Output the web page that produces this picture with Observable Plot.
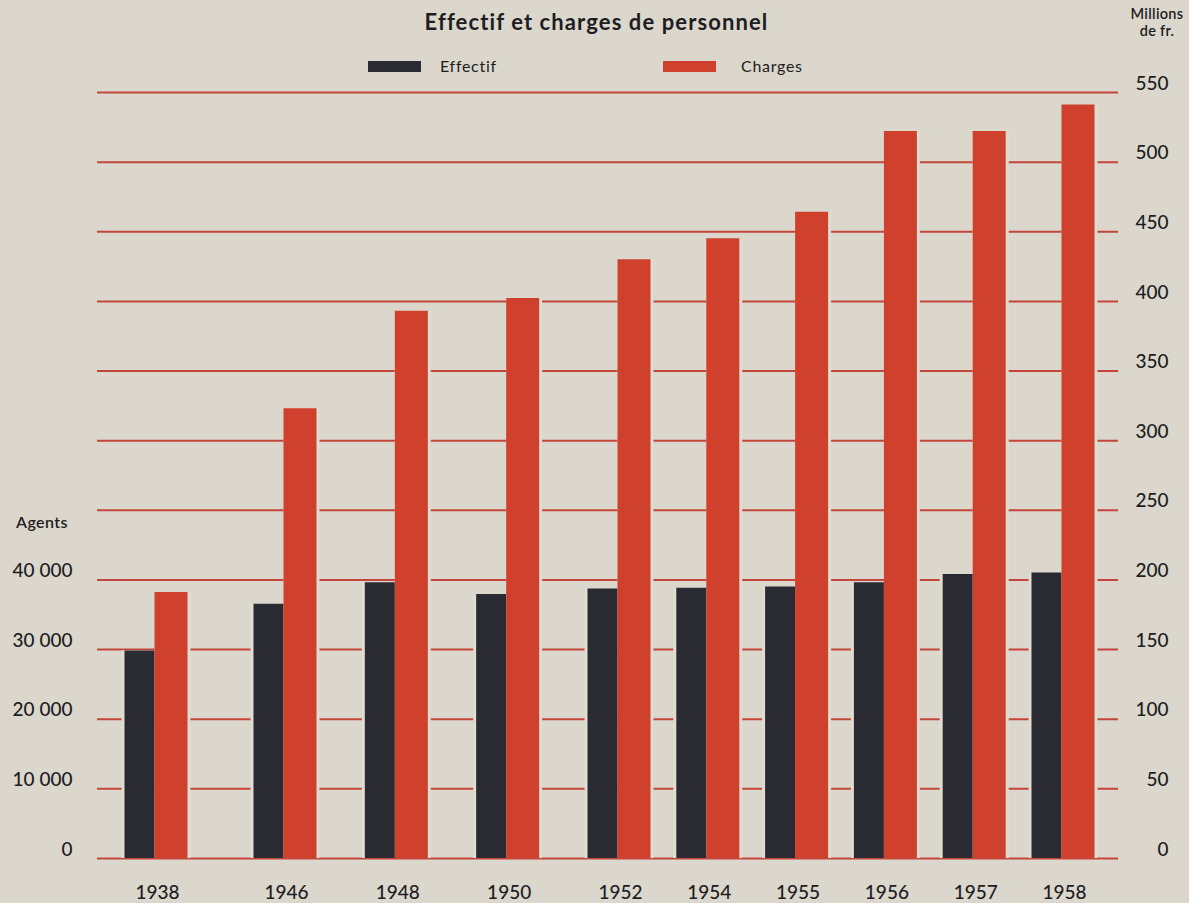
<!DOCTYPE html>
<html>
<head>
<meta charset="utf-8">
<script src="https://cdn.jsdelivr.net/npm/d3@7"></script>
<script src="https://cdn.jsdelivr.net/npm/@observablehq/plot@0.6"></script>
<style>
  html, body { margin: 0; padding: 0; background: #dbd7cc; }
  #wrap { position: relative; width: 1189px; height: 903px; font-family: Lato, "Noto Sans", sans-serif; color: #1d1d22; overflow: hidden; }
  #chart { position: absolute; left: 0; top: 0; }
  .abs { position: absolute; white-space: nowrap; }
  #title { left: 2px; width: 1189px; top: 8px; text-align: center; font-weight: 700; font-size: 22px; letter-spacing: 1.1px; }
  .sw { position: absolute; width: 53px; height: 11px; }
  .lg { font-size: 16px; top: 56px; letter-spacing: 0.7px; }
  #unitR { left: 1118px; width: 78px; top: 5px; text-align: center; font-size: 14.5px; line-height: 17px; font-weight: 600; letter-spacing: 0.3px; }
  #unitL { left: 16px; top: 512px; font-size: 16px; font-weight: 600; letter-spacing: 0.4px; }
</style>
</head>
<body>
<div id="wrap">
  <div id="chart"></div>
  <div id="title" class="abs">Effectif et charges de personnel</div>
  <div class="sw" id="swE" style="left:368px; top:61px;"></div>
  <div class="abs lg" style="left:440px;">Effectif</div>
  <div class="sw" id="swC" style="left:663px; top:61px;"></div>
  <div class="abs lg" style="left:741px;">Charges</div>
  <div id="unitR" class="abs">Millions<br>de fr.</div>
  <div id="unitL" class="abs">Agents</div>
</div>
<script>
// ---- data ----
const years = ["1938", "1946", "1948", "1950", "1952", "1954", "1955", "1956", "1957", "1958"];
const effectif = [29800, 36500, 39600, 37900, 38700, 38800, 39000, 39600, 40800, 41000]; // agents
const charges = [191, 323, 393, 402, 430, 445, 464, 522, 522, 541]; // millions de fr.
const millionTicks = [0, 50, 100, 150, 200, 250, 300, 350, 400, 450, 500, 550];
const agentTicks = [0, 10000, 20000, 30000, 40000];
const agentsPerMillion = 200; // 10 000 agents sit on the 50 millions line

const colorEffectif = "#2a2a33";
const colorCharges = "#cf412c";
const colorGrid = "#c4453a";
const paper = "#dfdcd2";

document.getElementById("swE").style.background = colorEffectif;
document.getElementById("swC").style.background = colorCharges;

const rows = years.map((year, i) => ({i, year, effectif: effectif[i], charges: charges[i]}));
const fmtAgents = d3.formatLocale({thousands: "\u2009", grouping: [3], decimal: ","}).format(",");
const fmt = v => fmtAgents(v).replace("\u2009", " ");

const chart = Plot.plot({
  width: 1189,
  height: 903,
  marginTop: 92,
  marginBottom: 45,
  marginLeft: 97,
  marginRight: 71,
  style: {background: "transparent", fontFamily: "Lato, 'Noto Sans', sans-serif", fontSize: "19px", fontWeight: 500, color: "#1d1d22"},
  x: {type: "linear", domain: [0, 1, 4, 9], range: [154, 283, 617, 1061]},
  y: {domain: [0, 550]},
  marks: [
    Plot.ruleY(millionTicks, {stroke: colorGrid, strokeWidth: 2}),
    // paper halo around bars
    Plot.ruleX(rows, {x: "i", y1: 0, y2: d => d.effectif / agentsPerMillion, stroke: paper, strokeWidth: 33, dx: -16.5}),
    Plot.ruleX(rows, {x: "i", y1: 0, y2: "charges", stroke: paper, strokeWidth: 36, dx: 18}),
    // bars
    Plot.ruleX(rows, {x: "i", y1: 0, y2: d => d.effectif / agentsPerMillion, stroke: colorEffectif, strokeWidth: 30, dx: -15}),
    Plot.ruleX(rows, {x: "i", y1: 0, y2: "charges", stroke: colorCharges, strokeWidth: 33, dx: 16.5}),
    Plot.axisY({anchor: "left", ticks: agentTicks.map(a => a / agentsPerMillion), tickFormat: v => fmt(v * agentsPerMillion), tickSize: 0, tickPadding: 25, dy: -9, label: null}),
    Plot.axisY({anchor: "right", ticks: millionTicks, tickSize: 0, tickPadding: 50, textAnchor: "end", dy: -9, label: null}),
    Plot.axisX({ticks: d3.range(years.length), tickFormat: i => years[i], tickSize: 0, tickPadding: 27, dx: 3, label: null})
  ]
});
document.getElementById("chart").appendChild(chart);
</script>
</body>
</html>
